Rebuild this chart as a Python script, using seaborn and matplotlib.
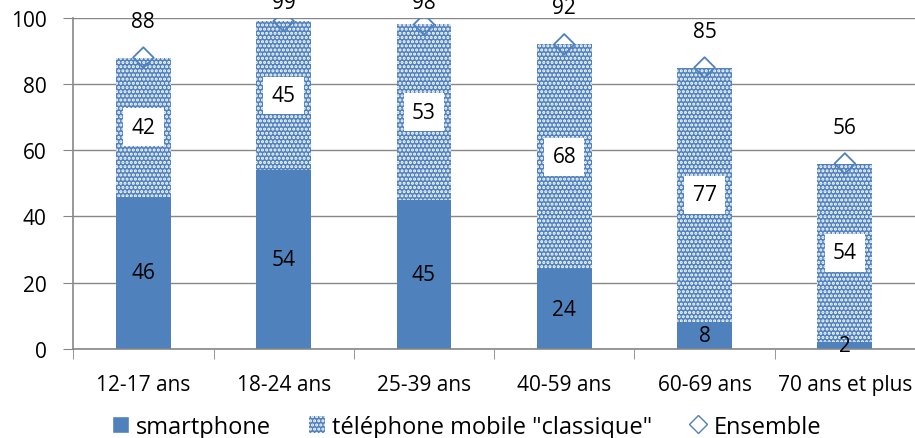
import pandas as pd
import matplotlib.pyplot as plt
import seaborn as sns
from matplotlib.patches import Patch
from matplotlib.lines import Line2D

# Taux d'équipement en téléphone mobile par âge

ages = ["12-17 ans", "18-24 ans", "25-39 ans", "40-59 ans", "60-69 ans", "70 ans et plus"]
smartphone = [46, 54, 45, 24, 8, 2]
classique = [42, 45, 53, 68, 77, 54]
ensemble = [88, 99, 98, 92, 85, 56]

data = pd.DataFrame({"age": ages, "smartphone": smartphone,
                     "classique": classique, "ensemble": ensemble})
data["total"] = data["smartphone"] + data["classique"]

sns.set_style("white")
plt.rcParams["font.family"] = ["Open Sans", "DejaVu Sans"]
plt.rcParams["hatch.linewidth"] = 1.5
plt.rcParams["text.color"] = "black"
plt.rcParams["xtick.color"] = "black"
plt.rcParams["ytick.color"] = "black"

blue = "#4F81BD"
grey = "#878787"

fig = plt.figure(figsize=(9.15, 4.39), dpi=100)
ax = fig.add_axes([0.08, 0.203, 0.92, 0.754])

ax.yaxis.grid(True, color=grey, linewidth=1)
ax.set_axisbelow(True)

# stacked: full bar hatched, smartphone drawn over it
sns.barplot(data=data, x="age", y="total", color=blue, width=0.39,
            hatch="....", edgecolor="white", linewidth=0, saturation=1, ax=ax)
sns.barplot(data=data, x="age", y="smartphone", color=blue, width=0.39,
            linewidth=0, saturation=1, ax=ax)
sns.scatterplot(data=data, x="age", y="ensemble", marker="D", s=110,
                facecolor="none", edgecolor=blue, linewidth=1.3, ax=ax, zorder=5)

for i in range(len(ages)):
    ax.text(i, smartphone[i] / 2, str(smartphone[i]), ha="center", va="center",
            fontsize=15, zorder=6)
    ax.text(i, smartphone[i] + classique[i] / 2, str(classique[i]), ha="center",
            va="center", fontsize=15, zorder=6,
            bbox=dict(facecolor="white", edgecolor="none", pad=6))
    ax.text(i, min(ensemble[i] + 11, 104.5), str(ensemble[i]), ha="center",
            va="center", fontsize=15, zorder=6, clip_on=False)

ax.set_ylim(0, 100)
ax.set_xlim(-0.5, 5.5)
ax.set_yticks(range(0, 101, 20))
ax.set_xticks([i - 0.5 for i in range(len(ages) + 1)], minor=True)
ax.tick_params(axis="x", which="major", length=0, labelsize=15, pad=18)
ax.tick_params(axis="x", which="minor", length=7, color=grey, bottom=True, direction="out")
ax.tick_params(axis="y", length=7, color=grey, left=True, direction="out",
               labelsize=15, pad=12)
ax.set_xlabel("")
ax.set_ylabel("")
for s in ["top", "right"]:
    ax.spines[s].set_visible(False)
for s in ["left", "bottom"]:
    ax.spines[s].set_color(grey)
    ax.spines[s].set_linewidth(1.2)

handles = [Patch(facecolor=blue, label="smartphone"),
           Patch(facecolor=blue, hatch="....", edgecolor="white", linewidth=0,
                 label='téléphone mobile "classique"'),
           Line2D([], [], marker="D", linestyle="none", markerfacecolor="none",
                  markeredgecolor=blue, markersize=9, label="Ensemble")]
fig.legend(handles=handles, loc="lower center", bbox_to_anchor=(0.51, -0.05),
           ncol=3, frameon=False, fontsize=17, handlelength=0.7,
           handletextpad=0.3, columnspacing=1.6)

fig.savefig("out.png", dpi=100)
